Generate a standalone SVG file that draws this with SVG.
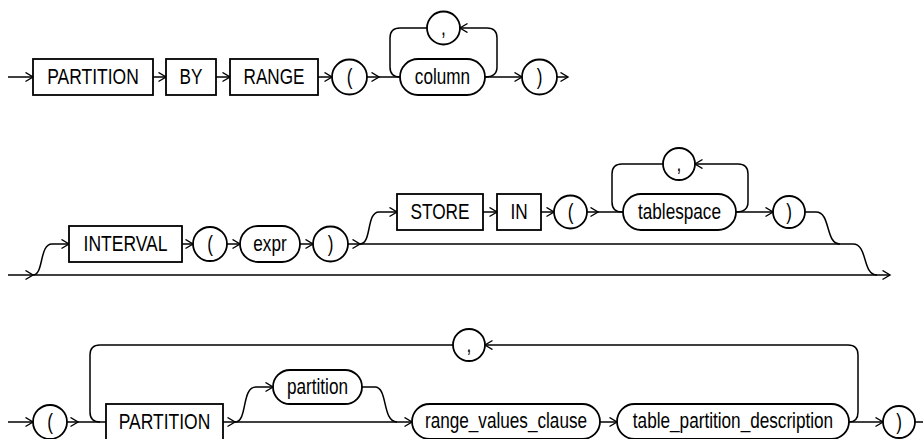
<svg xmlns="http://www.w3.org/2000/svg" width="923" height="439" viewBox="0 0 923 439">
<defs>
<marker id="ar" markerUnits="userSpaceOnUse" markerWidth="12" markerHeight="12" refX="8" refY="5" orient="auto">
<path d="M0.5,0.5 L8,5 L0.5,9.5" fill="none" stroke="#000" stroke-width="1.4"/>
</marker>
<style>
.n{fill:#fff;stroke:#000;stroke-width:1.8}
.t{font-family:"Liberation Sans",Arial,sans-serif;font-size:22px;fill:#000;text-anchor:middle}
.c{fill:none;stroke:#000;stroke-width:1.5}
.a{marker-end:url(#ar)}
</style>
</defs>
<rect width="923" height="439" fill="#fff"/>
<g id="connectors">
<path class="c a" d="M8,77 H33"/>
<path class="c a" d="M153,77 H166"/>
<path class="c a" d="M216,77 H230"/>
<path class="c a" d="M318,77 H332"/>
<path class="c a" d="M367,77 H379"/>
<path class="c" d="M379,77 H400"/>
<path class="c" d="M427,28 H400 Q390,28 390,38 V67 Q390,77 400,77"/>
<path class="c a" d="M485,77 Q497,77 497,67 V38 Q497,28 487,28 H460"/>
<path class="c a" d="M485,77 H522"/>
<path class="c a" d="M557,77 H568"/>
<path class="c a" d="M8,275 H33"/>
<path class="c a" d="M33,275 H890"/>
<path class="c a" d="M33,275 C44,275 39,244 52,244 H69"/>
<path class="c a" d="M182,244 H193"/>
<path class="c a" d="M227,244 H240"/>
<path class="c a" d="M300,244 H313"/>
<path class="c a" d="M348,244 H360"/>
<path class="c" d="M360,244 H853 C868,244 862,275 877,275"/>
<path class="c a" d="M360,244 C372,244 366,212 379,212 H397"/>
<path class="c a" d="M483,212 H497"/>
<path class="c a" d="M541,212 H554"/>
<path class="c a" d="M587,212 H598"/>
<path class="c" d="M598,212 H623"/>
<path class="c" d="M663,164 H622 Q612,164 612,174 V202 Q612,212 622,212"/>
<path class="c a" d="M736,212 Q748,212 748,202 V174 Q748,164 738,164 H695"/>
<path class="c a" d="M736,212 H773"/>
<path class="c" d="M805,212 H816 C831,212 825,244 840,244"/>
<path class="c a" d="M8,422 H33"/>
<path class="c a" d="M67,422 H78"/>
<path class="c" d="M78,422 H106"/>
<path class="c" d="M453,345 H100 Q90,345 90,355 V412 Q90,422 100,422"/>
<path class="c a" d="M849,422 Q858,422 858,412 V355 Q858,345 848,345 H485"/>
<path class="c a" d="M223,422 H235"/>
<path class="c a" d="M235,422 C248,422 241,387 256,387 H273"/>
<path class="c a" d="M235,422 H412"/>
<path class="c" d="M362,387 H375 C388,387 382,422 397,422"/>
<path class="c a" d="M600,422 H617"/>
<path class="c a" d="M849,422 H883"/>
<path class="c" d="M915,422 H923"/>
</g>
<g id="kw-partition-1"><rect class="n" x="33" y="59" width="120" height="36"/><text class="t" x="93" y="83.5" textLength="91.5" lengthAdjust="spacingAndGlyphs">PARTITION</text></g>
<g id="kw-by"><rect class="n" x="166" y="59" width="50" height="36"/><text class="t" x="191" y="83.5" textLength="22.9" lengthAdjust="spacingAndGlyphs">BY</text></g>
<g id="kw-range"><rect class="n" x="230" y="59" width="88" height="36"/><text class="t" x="274" y="83.5" textLength="61" lengthAdjust="spacingAndGlyphs">RANGE</text></g>
<g id="lp-1"><circle class="n" cx="349.5" cy="77" r="17.5"/><text class="t" x="349.5" y="83.5" textLength="5.7" lengthAdjust="spacingAndGlyphs">(</text></g>
<g id="comma-1"><circle class="n" cx="443.5" cy="28" r="16.5"/><text class="t" x="443.5" y="34.5" textLength="4.8" lengthAdjust="spacingAndGlyphs">,</text></g>
<g id="column"><rect class="n" x="400" y="59" width="85" height="36" rx="18"/><text class="t" x="442.5" y="83.5" textLength="55.3" lengthAdjust="spacingAndGlyphs">column</text></g>
<g id="rp-1"><circle class="n" cx="539.5" cy="77" r="17.5"/><text class="t" x="539.5" y="83.5" textLength="5.7" lengthAdjust="spacingAndGlyphs">)</text></g>
<g id="kw-interval"><rect class="n" x="69" y="226" width="113" height="36"/><text class="t" x="125.5" y="250.5" textLength="83.9" lengthAdjust="spacingAndGlyphs">INTERVAL</text></g>
<g id="lp-2"><circle class="n" cx="210" cy="244" r="17"/><text class="t" x="210" y="250.5" textLength="5.7" lengthAdjust="spacingAndGlyphs">(</text></g>
<g id="expr"><rect class="n" x="240" y="226" width="60" height="36" rx="18"/><text class="t" x="270" y="250.5" textLength="33.4" lengthAdjust="spacingAndGlyphs">expr</text></g>
<g id="rp-2"><circle class="n" cx="330.5" cy="244" r="17.5"/><text class="t" x="330.5" y="250.5" textLength="5.7" lengthAdjust="spacingAndGlyphs">)</text></g>
<g id="kw-store"><rect class="n" x="397" y="194" width="86" height="36"/><text class="t" x="440" y="218.5" textLength="59.1" lengthAdjust="spacingAndGlyphs">STORE</text></g>
<g id="kw-in"><rect class="n" x="497" y="194" width="44" height="36"/><text class="t" x="519" y="218.5" textLength="17.2" lengthAdjust="spacingAndGlyphs">IN</text></g>
<g id="lp-3"><circle class="n" cx="570.5" cy="212" r="16.5"/><text class="t" x="570.5" y="218.5" textLength="5.7" lengthAdjust="spacingAndGlyphs">(</text></g>
<g id="comma-2"><circle class="n" cx="679" cy="164" r="16"/><text class="t" x="679" y="170.5" textLength="4.8" lengthAdjust="spacingAndGlyphs">,</text></g>
<g id="tablespace"><rect class="n" x="623" y="194" width="113" height="36" rx="18"/><text class="t" x="679.5" y="218.5" textLength="83" lengthAdjust="spacingAndGlyphs">tablespace</text></g>
<g id="rp-3"><circle class="n" cx="789" cy="212" r="16"/><text class="t" x="789" y="218.5" textLength="5.7" lengthAdjust="spacingAndGlyphs">)</text></g>
<g id="lp-4"><circle class="n" cx="50" cy="422" r="17"/><text class="t" x="50" y="428.5" textLength="5.7" lengthAdjust="spacingAndGlyphs">(</text></g>
<g id="comma-3"><circle class="n" cx="469" cy="345" r="16"/><text class="t" x="469" y="351.5" textLength="4.8" lengthAdjust="spacingAndGlyphs">,</text></g>
<g id="kw-partition-2"><rect class="n" x="106" y="404" width="117" height="36"/><text class="t" x="164.5" y="428.5" textLength="91.5" lengthAdjust="spacingAndGlyphs">PARTITION</text></g>
<g id="partition"><rect class="n" x="273" y="370" width="89" height="34" rx="17"/><text class="t" x="317.5" y="393.5" textLength="61" lengthAdjust="spacingAndGlyphs">partition</text></g>
<g id="range-values-clause"><rect class="n" x="412" y="404" width="188" height="35" rx="17.5"/><text class="t" x="506" y="428" textLength="162.1" lengthAdjust="spacingAndGlyphs">range_values_clause</text></g>
<g id="table-partition-description"><rect class="n" x="617" y="404" width="232" height="35" rx="17.5"/><text class="t" x="733" y="428" textLength="200.3" lengthAdjust="spacingAndGlyphs">table_partition_description</text></g>
<g id="rp-4"><circle class="n" cx="899" cy="422" r="16"/><text class="t" x="899" y="428.5" textLength="5.7" lengthAdjust="spacingAndGlyphs">)</text></g>
</svg>
